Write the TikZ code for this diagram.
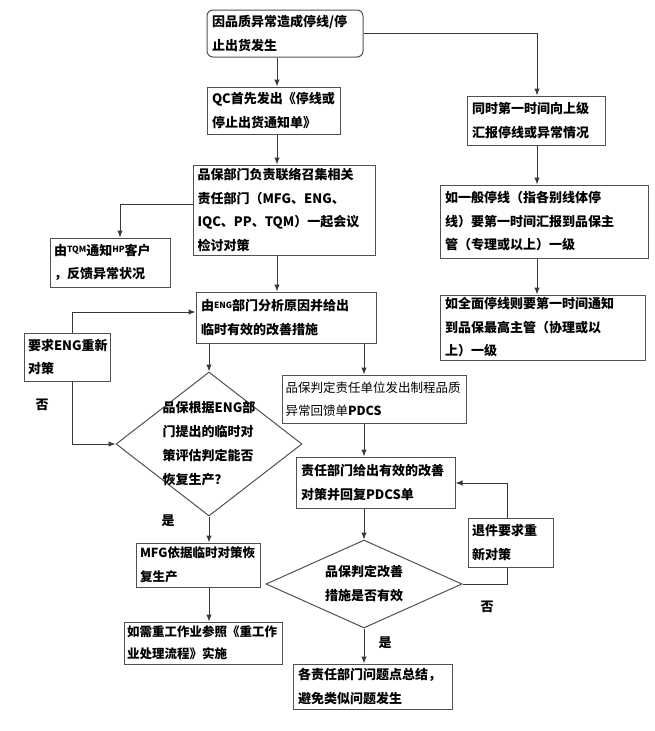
\documentclass[tikz,border=0pt]{standalone}
\usepackage{fontspec}
\setmainfont{Noto Sans CJK SC}
\usetikzlibrary{shapes.geometric,arrows.meta}
\definecolor{boxc}{HTML}{505050}
\definecolor{linec}{HTML}{383838}
\newcommand{\smtxt}[1]{\raisebox{2.5pt}{\fontsize{8.5}{8.5}\selectfont #1}}
\begin{document}
\begin{tikzpicture}[x=1pt,y=-1pt,
  box/.style={draw=boxc, line width=1pt, inner sep=0pt, align=left,
    font=\bfseries\fontsize{13}{23.5}\selectfont},
  dia/.style={draw=boxc, line width=1pt, diamond, inner sep=0pt},
  dtext/.style={align=left, font=\bfseries\fontsize{13}{24}\selectfont},
  lbl/.style={font=\bfseries\fontsize{13}{13}\selectfont},
  ln/.style={draw=linec, line width=1pt},
  arr/.style={draw=linec, line width=1pt, -{Latex[length=7pt,width=5.5pt]}}]
\useasboundingbox (0,0) rectangle (655,731);
% boxes
\node[box, rounded corners=6pt, minimum width=156, text width=146, minimum height=47] (top) at (285,33.5)
  {因品质异常造成停线/停\\止出货发生};
\node[box, minimum width=133, text width=123, minimum height=47] (qc) at (273.5,110.5)
  {QC首先发出《停线或\\停止出货通知单》};
\node[box, minimum width=182, text width=173, minimum height=90] (pb) at (284,210)
  {品保部门负责联络召集相关\\责任部门（MFG、ENG、\\IQC、PP、TQM）一起会议\\检讨对策};
\node[box, minimum width=120, text width=112, minimum height=49] (tqm) at (110,262.5)
  {由\smtxt{TQM}通知\smtxt{HP}客户\\，反馈异常状况};
\node[box, minimum width=138, text width=128, minimum height=49] (r1) at (536,120.5)
  {同时第一时间向上级\\汇报停线或异常情况};
\node[box, minimum width=208, text width=198, minimum height=73] (r2) at (544,221.5)
  {如一般停线（指各别线体停\\线）要第一时间汇报到品保主\\管（专理或以上）一级};
\node[box, minimum width=205, text width=195, minimum height=65] (r3) at (542.5,327.5)
  {如全面停线则要第一时间通知\\到品保最高主管（协理或以\\上）一级};
\node[box, minimum width=180, text width=170, minimum height=51] (eng) at (286,317.5)
  {由\smtxt{ENG}部门分析原因并给出\\临时有效的改善措施};
\node[box, minimum width=86, text width=78, minimum height=48] (req) at (67,357)
  {要求ENG重新\\对策};
\node[dia, minimum width=186, minimum height=144] (d1) at (209,444) {};
\node[dtext] (d1t) at (d1.center) {品保根据ENG部\\门提出的临时对\\策评估判定能否\\恢复生产？};
\node[box, font=\fontsize{12.5}{23.5}\selectfont, minimum width=184, text width=177, minimum height=48] (pdcs) at (374,399)
  {品保判定责任单位发出制程品质\\异常回馈单\textbf{PDCS}};
\node[box, minimum width=159, text width=149, minimum height=51] (resp) at (375.5,482.5)
  {责任部门给出有效的改善\\对策并回复PDCS单};
\node[box, font=\bfseries\fontsize{12.5}{23.5}\selectfont, minimum width=124, text width=116, minimum height=44] (mfg) at (198,565)
  {MFG依据临时对策恢\\复生产};
\node[box, font=\bfseries\fontsize{12.5}{22}\selectfont, minimum width=158, text width=152, minimum height=42] (rw) at (203,643)
  {如需重工作业参照《重工作\\业处理流程》实施};
\node[dia, minimum width=196, minimum height=88] (d2) at (364,584) {};
\node[dtext] (d2t) at (d2.center) {品保判定改善\\措施是否有效};
\node[box, minimum width=85, text width=77, minimum height=49] (ret) at (510.5,542.5)
  {退件要求重\\新对策};
\node[box, minimum width=159, text width=149, minimum height=45] (fin) at (372.5,686.5)
  {各责任部门问题点总结，\\避免类似问题发生};
% labels
\node[lbl] (no1) at (42,405) {否};
\node[lbl] (yes1) at (168,521) {是};
\node[lbl] (no2) at (487,607) {否};
\node[lbl] (yes2) at (385,643) {是};
% connectors
\coordinate (c1) at (277,0);
\draw[arr] (top.south -| c1) -- (qc.north -| c1);
\draw[arr] (qc.south -| c1) -- (pb.north -| c1);
\draw[arr] (pb.south -| c1) -- (eng.north -| c1);
\coordinate (tr) at (537,33);
\draw[arr] (top.east |- tr) -- (tr) -- (r1.north -| tr);
\draw[arr] (r1.south -| tr) -- (r2.north -| tr);
\draw[arr] (r2.south -| tr) -- (r3.north -| tr);
\coordinate (pl) at (120,204);
\draw[arr] (pb.west |- pl) -- (pl) -- (tqm.north -| pl);
\draw[arr] (eng.south -| d1.north) -- (d1.north);
\coordinate (er) at (364,0);
\draw[arr] (eng.south -| er) -- (pdcs.north -| er);
\draw[arr] (pdcs.south -| er) -- (resp.north -| er);
\draw[arr] (resp.south -| d2.north) -- (d2.north);
\draw[arr] (d2.south) -- (fin.north -| d2.south);
\draw[arr] (d1.south) -- (mfg.north -| d1.south);
\draw[arr] (mfg.south -| d1.south) -- (rw.north -| d1.south);
\coordinate (rl) at (72,0);
\draw[arr] (req.south -| rl) -- (rl |- d1.west) -- (d1.west);
\coordinate (el) at (72,312);
\draw[arr] (req.north -| el) -- (el) -- (eng.west |- el);
\coordinate (rr) at (507,0);
\draw[ln] (d2.east) -- (rr |- d2.east) -- (ret.south -| rr);
\coordinate (rt) at (507,483);
\draw[arr] (ret.north -| rt) -- (rt) -- (resp.east |- rt);
\end{tikzpicture}
\end{document}
